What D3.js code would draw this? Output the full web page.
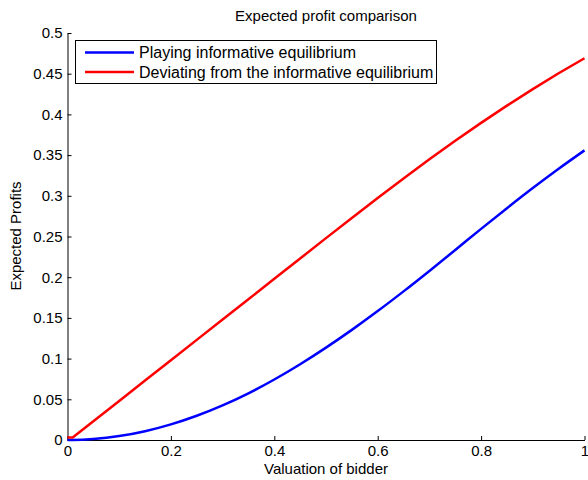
<!DOCTYPE html>
<html>
<head>
<meta charset="utf-8">
<script src="https://cdn.jsdelivr.net/npm/d3@7"></script>
<style>
  html, body { margin: 0; padding: 0; background: #fff; }
  svg { display: block; font-family: "Liberation Sans", Arial, sans-serif; }
</style>
</head>
<body>
<svg id="chart" width="588" height="480"></svg>
<script>
// Valuation of bidder (x) grid
const valuations = [0, 0.01, 0.05, 0.1, 0.15, 0.2, 0.25, 0.3, 0.35, 0.4, 0.45, 0.5, 0.55, 0.6, 0.65, 0.7, 0.75, 0.8, 0.85, 0.9, 0.95, 1.0];
// Expected profit when playing the informative equilibrium
const playingProfit = [0, 0.00002, 0.0012, 0.0048, 0.0108, 0.0192, 0.0298, 0.0425, 0.0573, 0.0743, 0.0931, 0.1135, 0.1353, 0.1584, 0.1826, 0.2077, 0.2334, 0.2594, 0.2848, 0.3095, 0.3332, 0.3558];
// Expected profit when deviating from the informative equilibrium
const deviatingProfit = [0.003, 0.003, 0.023, 0.048, 0.073, 0.098, 0.123, 0.148, 0.173, 0.198, 0.223, 0.248, 0.2728, 0.2973, 0.3213, 0.3448, 0.3676, 0.3896, 0.4108, 0.4311, 0.4505, 0.469];

const seriesNames = ["Playing informative equilibrium", "Deviating from the informative equilibrium"];
const seriesColors = ["#0000ff", "#ff0000"];
const xTicks = [0, 0.2, 0.4, 0.6, 0.8, 1];
const yTicks = [0, 0.05, 0.1, 0.15, 0.2, 0.25, 0.3, 0.35, 0.4, 0.45, 0.5];

const svg = d3.select("#chart");
const plotLeft = 67.5, plotRight = 584.5, plotTop = 33, plotBottom = 440;

const x = d3.scaleLinear().domain([0, 1]).range([plotLeft, plotRight]);
const y = d3.scaleLinear().domain([0, 0.5]).range([plotBottom, plotTop]);

// Axes (ticks pointing inward)
const xAxis = svg.append("g")
  .attr("transform", `translate(0,${plotBottom})`)
  .call(d3.axisBottom(x).tickValues(xTicks).tickSizeInner(-4).tickSizeOuter(0).tickPadding(5)
    .tickFormat(d => d3.format("~g")(d)));
const yAxis = svg.append("g")
  .attr("transform", `translate(${plotLeft},0)`)
  .call(d3.axisLeft(y).tickValues(yTicks).tickSizeInner(-4).tickSizeOuter(0).tickPadding(5)
    .tickFormat(d => d3.format("~g")(d)));

[xAxis, yAxis].forEach(g => {
  g.select(".domain").attr("stroke", "#000").attr("stroke-width", 1);
  g.selectAll(".tick line").attr("stroke", "#000");
  g.selectAll(".tick text").attr("fill", "#000").style("font-size", "15px")
    .style("font-family", "'Liberation Sans', Arial, sans-serif");
});

// Profit curves: the informative-equilibrium curve is smooth, the deviation curve has a kink near zero
const curves = [d3.curveMonotoneX, d3.curveLinear];
const series = [playingProfit, deviatingProfit];
series.forEach((vals, k) => {
  const line = d3.line().x((d, i) => x(valuations[i])).y(d => y(d)).curve(curves[k]);
  svg.append("path")
    .datum(vals)
    .attr("fill", "none")
    .attr("stroke", seriesColors[k])
    .attr("stroke-width", 2.5)
    .attr("stroke-linejoin", "round")
    .attr("d", line);
});

// Title and axis labels
svg.append("text").attr("x", 326).attr("y", 21).attr("text-anchor", "middle")
  .style("font-size", "15px").text("Expected profit comparison");
svg.append("text").attr("x", 326).attr("y", 474).attr("text-anchor", "middle")
  .style("font-size", "15px").text("Valuation of bidder");
svg.append("text").attr("transform", "translate(21,236) rotate(-90)").attr("text-anchor", "middle")
  .style("font-size", "15px").text("Expected Profits");

// Legend
const legend = svg.append("g");
legend.append("rect").attr("x", 75.5).attr("y", 40.5).attr("width", 361).attr("height", 43)
  .attr("fill", "#fff").attr("stroke", "#000").attr("stroke-width", 1);
seriesNames.forEach((name, k) => {
  const cy = 52.5 + k * 19.5;
  legend.append("line").attr("x1", 85).attr("x2", 134).attr("y1", cy).attr("y2", cy)
    .attr("stroke", seriesColors[k]).attr("stroke-width", 2.5);
  legend.append("text").attr("x", 139).attr("y", cy + 5.5).style("font-size", "16px").text(name);
});
</script>
</body>
</html>
